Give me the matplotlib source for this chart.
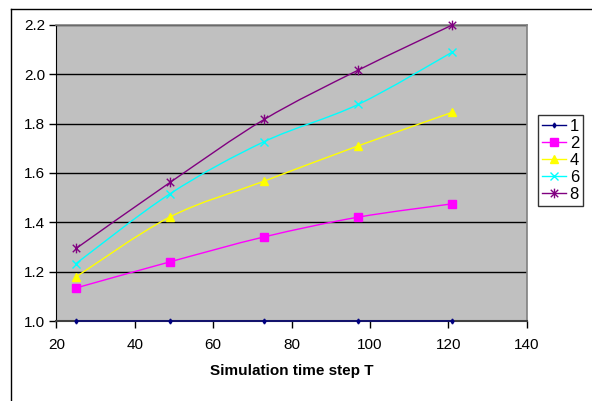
import numpy as np
import matplotlib
matplotlib.use("Agg")
import matplotlib.pyplot as plt
from matplotlib.path import Path
from matplotlib.patches import PathPatch
from matplotlib.lines import Line2D

plt.rcParams['font.family'] = ['Liberation Sans', 'DejaVu Sans']

# time steps and results per series
steps = [25, 49, 73, 97, 121]
labels = ["1", "2", "4", "6", "8"]
s1 = [1.0, 1.0, 1.0, 1.0, 1.0]
s2 = [1.134, 1.240, 1.341, 1.421, 1.475]
s4 = [1.179, 1.422, 1.567, 1.710, 1.846]
s6 = [1.233, 1.516, 1.727, 1.878, 2.090]
s8 = [1.294, 1.562, 1.817, 2.017, 2.200]

# asterisk marker: x plus a vertical bar
asterisk = Path([(-1, -1), (1, 1), (-1, 1), (1, -1), (0, -1.3), (0, 1.3)],
                [Path.MOVETO, Path.LINETO] * 3)

series = [s1, s2, s4, s6, s8]
colors = ["#000080", "#FF00FF", "#FFFF00", "#00FFFF", "#800080"]
markers = ["d", "s", "^", "x", asterisk]
msizes = [2.5, 6, 6, 6, 7]


def smooth_path(xs, ys):
    # Bezier curve through the points, like a spreadsheet "smoothed line"
    pts = np.column_stack([xs, ys]).astype(float)
    verts = [pts[0]]
    codes = [Path.MOVETO]
    n = len(pts)
    for i in range(n - 1):
        p0 = pts[i - 1] if i > 0 else pts[i]
        p1 = pts[i]
        p2 = pts[i + 1]
        p3 = pts[i + 2] if i + 2 < n else pts[i + 1]
        c1 = p1 + (p2 - p0) / 6.0
        c2 = p2 - (p3 - p1) / 6.0
        verts += [c1, c2, p2]
        codes += [Path.CURVE4] * 3
    return Path(verts, codes)


fig = plt.figure(figsize=(5.92, 4.01), dpi=100)
ax = fig.add_axes([0.0954, 0.1995, 0.7943, 0.7382])
ax.set_facecolor("#C0C0C0")

ax.set_xlim(20, 140)
ax.set_ylim(1.0, 2.2)
ax.set_xticks(range(20, 141, 20))
ax.set_yticks(np.arange(1.0, 2.21, 0.2))
ax.set_yticklabels([f"{v:.1f}" for v in np.arange(1.0, 2.21, 0.2)])
ax.yaxis.grid(True, color="black", linewidth=1.0)
ax.set_axisbelow(True)

for sp in ["top", "right"]:
    ax.spines[sp].set_color("#808080")
    ax.spines[sp].set_linewidth(1.2)
ax.spines["left"].set_color("black")
ax.spines["bottom"].set_color("#404040")
ax.spines["bottom"].set_linewidth(1.5)
ax.tick_params(direction="out", length=5, width=1, labelsize=11, colors="black")
ax.tick_params(axis="x", pad=7)
ax.tick_params(axis="y", pad=3)

handles = []
for ys, c, m, ms, lab in zip(series, colors, markers, msizes, labels):
    patch = PathPatch(smooth_path(steps, ys), facecolor="none", edgecolor=c,
                      linewidth=1.0, zorder=3, clip_on=False)
    ax.add_patch(patch)
    ax.plot(steps, ys, linestyle="none", marker=m, color=c, markersize=ms,
            markeredgewidth=1.0, zorder=4, clip_on=False)
    handles.append(Line2D([0], [0], color=c, marker=m, markersize=ms,
                          linewidth=1.0, label=lab))

ax.set_xlabel("Simulation time step T", fontsize=11, fontweight="bold", labelpad=9)

leg = fig.legend(handles=handles, loc="upper left",
                 bbox_to_anchor=(538 / 592, 1 - 115 / 401),
                 frameon=True, fancybox=False, fontsize=12,
                 handlelength=1.4, handletextpad=0.25, borderpad=0.25,
                 labelspacing=0.12, borderaxespad=0)
leg.get_frame().set_edgecolor("black")
leg.get_frame().set_linewidth(1.0)

# outer chart frame
fig.add_artist(Line2D([10.5 / 592, 10.5 / 592], [0, 1 - 8.5 / 401],
                      color="black", linewidth=1.0, transform=fig.transFigure))
fig.add_artist(Line2D([10.5 / 592, 1], [1 - 8.5 / 401, 1 - 8.5 / 401],
                      color="black", linewidth=1.0, transform=fig.transFigure))

fig.savefig("out.png", dpi=100)
